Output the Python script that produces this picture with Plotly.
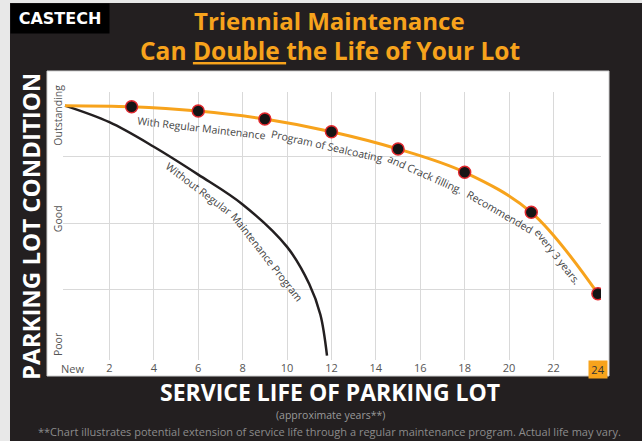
import plotly.graph_objects as go

# ---- data ----
years_with = [0, 3, 6, 9, 12, 15, 18, 21, 24]
cond_with = [3.77, 3.754, 3.689, 3.569, 3.377, 3.116, 2.765, 2.161, 0.934]
maint_years = years_with[1:]
maint_cond = cond_with[1:]

years_without = [0, 2, 4, 6, 8, 10, 11, 11.5, 11.8]
cond_without = [3.77, 3.52, 3.15, 2.73, 2.28, 1.64, 1.08, 0.62, 0.0]

x_tick_vals = [2, 4, 6, 8, 10, 12, 14, 16, 18, 20, 22]
x_tick_text = [str(v) for v in x_tick_vals]
x_first_label = "New"
x_last_val = 24
cond_grid = [1, 2, 3]
cond_label_pos = [0.145, 2.04, 3.6]
cond_labels = ["Poor", "Good", "Outstanding"]

with_text = [("With Regular Maintenance", 6.13, 3.43, 6.6),
             ("Program of Sealcoating", 11.8, 3.157, 12.6),
             ("and Crack filling.", 16.2, 2.74, 24),
             ("Recommended", 19.6, 2.17, 30),
             ("every 3 years.", 22.2, 1.49, 52)]
without_text = [("Without Regular", 6.04, 2.51, 37),
                ("Maintenance Program", 9.1, 1.495, 52)]

# ---- geometry helpers (pixel -> paper) ----
W, H = 642, 441
L, R, T, B = 63, 41, 92, 81
PW, PH = W - L - R, H - T - B
def px(x):
    return (x - L) / PW
def py(y):
    return (H - B - y) / PH

DARK = "#231f20"
ORANGE = "#f7a31c"
FONT = "Open Sans"

fig = go.Figure()
fig.add_trace(go.Scatter(x=years_without, y=cond_without, mode="lines",
                         line=dict(color=DARK, width=2.5, shape="spline"),
                         hoverinfo="skip", showlegend=False))
fig.add_trace(go.Scatter(x=years_with, y=cond_with, mode="lines",
                         line=dict(color=ORANGE, width=3, shape="spline"),
                         hoverinfo="skip", showlegend=False))
fig.add_trace(go.Scatter(x=maint_years, y=maint_cond, mode="markers",
                         marker=dict(size=12, color="#151515",
                                     line=dict(color="#e0282e", width=1.5)),
                         hoverinfo="skip", showlegend=False))
fig.add_trace(go.Scatter(x=[None], y=[None], yaxis="y2", showlegend=False,
                         hoverinfo="skip"))

yrange = [-0.066, 3.976]
fig.update_layout(
    width=W, height=H, autosize=False,
    margin=dict(l=L, r=R, t=T, b=B, pad=0),
    paper_bgcolor=DARK, plot_bgcolor="white",
    font=dict(family=FONT),
    xaxis=dict(range=[-0.09, 24.14], tickvals=x_tick_vals, ticktext=x_tick_text,
               showgrid=True, gridcolor="#d9d9d9", gridwidth=1, zeroline=False,
               showline=False, ticks="", tickfont=dict(size=11, color="#555")),
    yaxis=dict(range=yrange, tickvals=cond_grid, showticklabels=False,
               showgrid=True, gridcolor="#d9d9d9", gridwidth=1, zeroline=False,
               showline=False, ticks=""),
    yaxis2=dict(range=yrange, overlaying="y", side="left", tickvals=cond_label_pos,
                ticktext=cond_labels, tickangle=-90, showgrid=False, zeroline=False,
                ticks="", tickfont=dict(size=10.5, color="#555"), ticklabelstandoff=-2),
)

shapes = [
    dict(type="rect", xref="paper", yref="paper", x0=px(0), x1=px(10), y0=py(441), y1=py(0),
         fillcolor="#e8e8e8", line=dict(width=0), layer="below"),
    dict(type="rect", xref="paper", yref="paper", x0=px(0), x1=px(642), y0=py(3), y1=py(0),
         fillcolor="#e8e8e8", line=dict(width=0), layer="below"),
    dict(type="rect", xref="paper", yref="paper", x0=px(47), x1=px(609), y0=py(376), y1=py(71),
         fillcolor="white", line=dict(width=1, color="#cfcfcf"), layer="below"),
]
fig.update_layout(shapes=shapes)

def note(text, x, y, size, color, bold=False, family=FONT, angle=0, **kw):
    d = dict(xref="paper", yref="paper", x=px(x), y=py(y),
             text=("<b>%s</b>" % text) if bold else text, showarrow=False,
             xanchor="center", yanchor="middle", textangle=angle,
             font=dict(family=family, size=size, color=color))
    d.update(kw)
    return d

ann = []
ann.append(note("CASTECH", 60, 18.5, 16, "white", bold=True, family="DejaVu Sans",
                bgcolor="black", width=96, height=27))
ann.append(note("Triennial Maintenance", 329, 21, 24, ORANGE, bold=True))
ann.append(note("Can <u>Double </u>the Life of Your Lot", 330, 51, 24.5, ORANGE, bold=True))
ann.append(note("PARKING LOT CONDITION", 30, 227, 24, "white", bold=True, angle=-90))
ann.append(note("SERVICE LIFE OF PARKING LOT", 330, 392, 23, "white", bold=True))
ann.append(note("(approximate years**)", 330, 415, 10.5, "#9a9a9a"))
ann.append(note("**Chart illustrates potential extension of service life through a regular "
                "maintenance program. Actual life may vary.", 329, 431, 11, "#8c8c8c"))
# first / last x labels
ann.append(dict(xref="x", yref="paper", x=years_with[0], y=py(368.5), text=x_first_label,
                xanchor="left", yanchor="middle", xshift=-6, showarrow=False,
                font=dict(size=11, color="#555")))
ann.append(dict(xref="x", yref="paper", x=x_last_val, y=py(369.5), text=str(x_last_val),
                xanchor="center", yanchor="middle", showarrow=False, bgcolor=ORANGE,
                width=16, height=15, font=dict(size=11, color="#333")))
# curve labels
for t, x, y, a in with_text + without_text:
    ann.append(dict(xref="x", yref="y", x=x, y=y, text=t, textangle=a, showarrow=False,
                    xanchor="center", yanchor="middle",
                    font=dict(family=FONT, size=10.5, color="#444")))
fig.update_layout(annotations=ann)

fig.write_html("out.html", config={"displayModeBar": False},
               post_script="document.body.style.margin='0px';")
